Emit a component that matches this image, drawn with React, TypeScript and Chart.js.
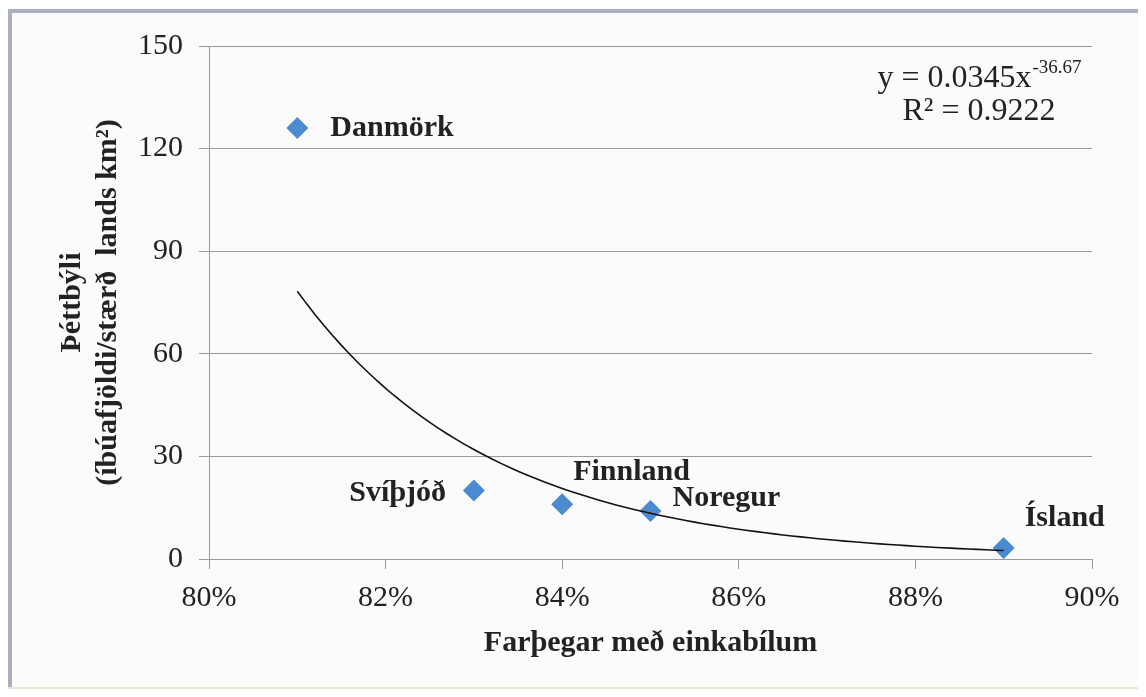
import React, { useEffect, useRef } from 'react';
import { Chart, registerables } from 'chart.js';

Chart.register(...registerables);

// ---- data ----
const COUNTRIES = ['Danmörk', 'Svíþjóð', 'Finnland', 'Noregur', 'Ísland'];
const CAR_SHARE = [81, 83, 84, 85, 89]; // % farþega með einkabílum
const DENSITY = [126, 20, 16, 14, 3.2]; // íbúar / km²
const X_TICKS = [80, 82, 84, 86, 88, 90];
const Y_TICKS = [0, 30, 60, 90, 120, 150];
const TREND_A = 0.0345;
const TREND_B = -36.67;
const TREND_R2 = 0.9222;
const X_TITLE = 'Farþegar með einkabílum';
const Y_TITLE = ['Þéttbýli', '(íbúafjöldi/stærð  lands km²)'];

// ---- styles ----
const FONT = 'Liberation Serif';
const MARKER = '#4C8AD0';
const GRID = '#9a9a9a';
const TEXT = '#222222';
// label offsets relative to point: [dx, dy, align]
const LABEL_POS: [number, number, CanvasTextAlign][] = [
  [33, 0, 'left'],
  [-28, 3, 'right'],
  [11, -32, 'left'],
  [22, -13, 'left'],
  [21, -30, 'left'],
];

const W = 1138;
const H = 681;

const points = CAR_SHARE.map((x, i) => ({ x, y: DENSITY[i] }));
const xMin = Math.min(...CAR_SHARE);
const xMax = Math.max(...CAR_SHARE);
const trend: { x: number; y: number }[] = [];
for (let x = xMin; x <= xMax + 1e-9; x += 0.1) {
  trend.push({ x, y: TREND_A * Math.pow(x / 100, TREND_B) });
}

const overlay = {
  id: 'overlay',
  afterDatasetsDraw(chart: any) {
    const ctx = chart.ctx as CanvasRenderingContext2D;
    const meta = chart.getDatasetMeta(1);
    ctx.save();
    ctx.fillStyle = TEXT;
    ctx.textBaseline = 'middle';
    ctx.font = `bold 30px "${FONT}"`;
    meta.data.forEach((el: any, i: number) => {
      const [dx, dy, align] = LABEL_POS[i];
      ctx.textAlign = align;
      ctx.fillText(COUNTRIES[i], el.x + dx, el.y + dy);
    });
    // equation
    const cx = 971;
    ctx.textAlign = 'left';
    ctx.font = `32px "${FONT}"`;
    const main = 'y = ' + TREND_A.toFixed(4) + 'x';
    const sup = TREND_B.toFixed(2);
    const mw = ctx.measureText(main).width;
    ctx.font = `19px "${FONT}"`;
    const sw = ctx.measureText(sup).width;
    const start = cx - (mw + sw) / 2;
    ctx.font = `32px "${FONT}"`;
    ctx.fillText(main, start, 71);
    ctx.font = `19px "${FONT}"`;
    ctx.fillText(sup, start + mw + 1, 60);
    ctx.font = `32px "${FONT}"`;
    ctx.textAlign = 'center';
    ctx.fillText('R² = ' + TREND_R2.toFixed(4), cx, 104);
    ctx.restore();
  },
};

export default function App() {
  const ref = useRef<HTMLCanvasElement>(null);
  useEffect(() => {
    if (!ref.current) return;
    const chart = new Chart(ref.current, {
      type: 'scatter',
      data: {
        datasets: [
          {
            type: 'line',
            data: trend,
            borderColor: '#111111',
            borderWidth: 1.6,
            pointRadius: 0,
            fill: false,
            tension: 0,
          } as any,
          {
            data: points,
            pointStyle: 'rectRot',
            pointRadius: 11,
            pointHoverRadius: 11,
            backgroundColor: MARKER,
            borderColor: MARKER,
            borderWidth: 0,
          },
        ],
      },
      options: {
        animation: false,
        responsive: false,
        events: [],
        layout: { padding: { left: 0, top: 38, right: 54, bottom: 20 } },
        plugins: {
          legend: { display: false },
          tooltip: { enabled: false },
        },
        scales: {
          x: {
            type: 'linear',
            min: 80,
            max: 90,
            afterBuildTicks: (s: any) => {
              s.ticks = X_TICKS.map((v) => ({ value: v }));
            },
            afterFit: (s: any) => {
              s.height = 110;
            },
            ticks: {
              color: TEXT,
              padding: 11,
              font: { family: FONT, size: 30 },
              callback: (v: any) => v + '%',
            },
            grid: {
              drawOnChartArea: false,
              drawTicks: true,
              tickLength: 10,
              color: GRID,
            },
            border: { display: true, color: GRID, width: 1 },
            title: {
              display: true,
              text: X_TITLE,
              color: TEXT,
              font: { family: FONT, size: 30, weight: 'bold' },
              padding: { top: 0, bottom: 8 },
            },
          },
          y: {
            type: 'linear',
            min: 0,
            max: 150,
            afterBuildTicks: (s: any) => {
              s.ticks = Y_TICKS.map((v) => ({ value: v }));
            },
            afterFit: (s: any) => {
              s.width = 201;
            },
            ticks: {
              color: TEXT,
              padding: 16,
              font: { family: FONT, size: 30 },
            },
            grid: {
              color: GRID,
              tickLength: 10,
              drawTicks: true,
            },
            border: { display: true, color: GRID, width: 1 },
            title: {
              display: true,
              text: Y_TITLE,
              color: TEXT,
              font: { family: FONT, size: 30, weight: 'bold' },
              padding: { top: 46, bottom: 0 },
            },
          },
        },
      },
      plugins: [overlay],
    });
    return () => chart.destroy();
  }, []);

  return (
    <div
      style={{
        position: 'relative',
        width: W,
        height: H,
        background: '#fbfbfb',
      }}
    >
      <canvas ref={ref} width={W} height={H} style={{ display: 'block', width: W, height: H }} />
      <div style={{ position: 'absolute', left: 0, top: 1, width: 4, height: H - 1, background: '#aab1bc' }} />
      <div style={{ position: 'absolute', left: 0, top: 1, width: W, height: 4, background: '#aab1bc' }} />
      <div style={{ position: 'absolute', left: 0, top: H - 2, width: W, height: 2, background: '#ece6d6' }} />
    </div>
  );
}
